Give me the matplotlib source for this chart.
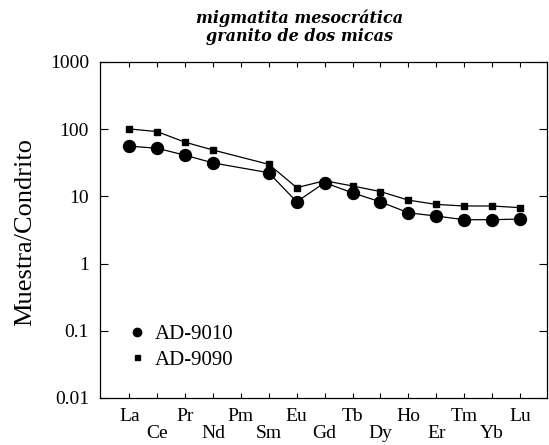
import matplotlib
matplotlib.use('Agg')
import matplotlib.pyplot as plt
from matplotlib.lines import Line2D
from matplotlib.ticker import FixedLocator, NullLocator

plt.rcParams['font.family'] = ['Liberation Serif', 'DejaVu Serif']

# REE chondrite-normalised data
elements = ['La', 'Ce', 'Pr', 'Nd', 'Pm', 'Sm', 'Eu', 'Gd', 'Tb', 'Dy', 'Ho', 'Er', 'Tm', 'Yb', 'Lu']
# no Pm analysed -> None
ad9010 = [56, 52, 41, 31.5, None, 22.5, 8.3, 16, 11.3, 8.3, 5.7, 5.1, 4.5, 4.5, 4.6]
ad9090 = [101, 92, 64, 49, None, 30, 13.5, 17.1, 14.3, 11.8, 8.8, 7.6, 7.2, 7.2, 6.8]
ytick_vals = [1000, 100, 10, 1, 0.1, 0.01]
ytick_labels = ['1000', '100', '10', '1', '0.1', '0.01']

fig = plt.figure(figsize=(5.49, 4.45), dpi=100)
ax = fig.add_axes([100 / 549, 1 - 398 / 445, 447 / 549, 336 / 445])

# drop the missing Pm so the line joins Nd to Sm
def valid(series):
    xs = [i for i, v in enumerate(series) if v is not None]
    ys = [v for v in series if v is not None]
    return xs, ys

x1, y1 = valid(ad9010)
x2, y2 = valid(ad9090)
ax.plot(x2, y2, color='black', lw=0.9, marker='s', markersize=4.6)
ax.plot(x1, y1, color='black', lw=0.9, marker='o', markersize=8.6)

ax.set_yscale('log')
ax.set_ylim(0.01, 1000)
ax.set_xlim(-1.05, 14.97)

ax.yaxis.set_major_locator(FixedLocator(ytick_vals))
ax.yaxis.set_minor_locator(NullLocator())
ax.set_yticklabels(ytick_labels)
ax.set_xticks(range(len(elements)))
ax.set_xticklabels(elements)

ax.tick_params(axis='both', direction='in', top=True, right=True, width=0.8, labelsize=14)
ax.tick_params(axis='x', length=3.6, pad=7)
ax.tick_params(axis='y', length=5.5, pad=8)
# staggered element labels
for i, t in enumerate(ax.xaxis.get_major_ticks()):
    if i % 2 == 1:
        t.set_pad(19.5)

for s in ax.spines.values():
    s.set_linewidth(0.9)

fig.text(25.6 / 549, 1 - 232 / 445, 'Muestra/Condrito', rotation=90,
         ha='center', va='center', fontsize=19)

fig.text(300 / 549, 1 - 27 / 445, 'migmatita mesocrática\ngranito de dos micas',
         ha='center', va='center', fontsize=11.5, fontweight='bold', style='italic',
         family='DejaVu Serif', linespacing=1.1)

handles = [Line2D([], [], ls='none', marker='o', color='black', markersize=6),
           Line2D([], [], ls='none', marker='s', color='black', markersize=3.6)]
ax.legend(handles, ['AD-9010', 'AD-9090'], loc='center left', bbox_to_anchor=(0.0456, 0.152),
          frameon=False, fontsize=15, handlelength=0.8, handletextpad=0.47,
          labelspacing=0.3, borderaxespad=0)

plt.savefig('out.png', dpi=100)
